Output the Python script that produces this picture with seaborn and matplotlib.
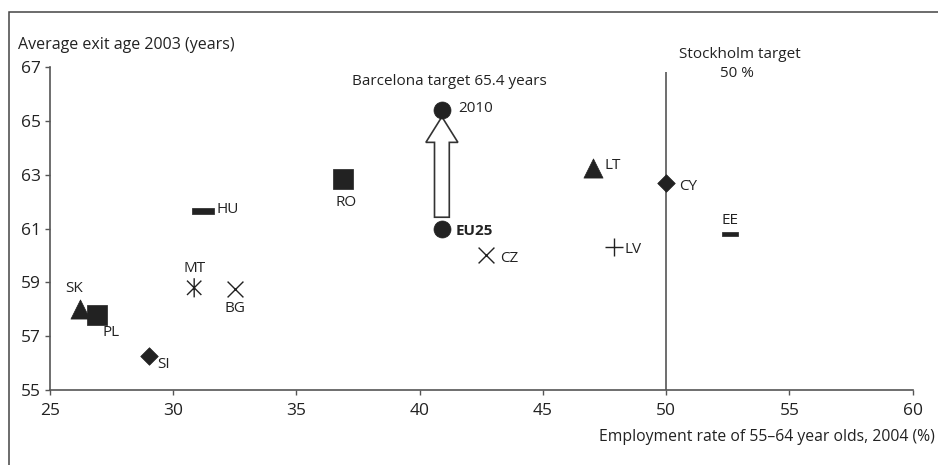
import matplotlib
matplotlib.use("Agg")
import numpy as np
import pandas as pd
import seaborn as sns
import matplotlib.pyplot as plt
from matplotlib.path import Path
from matplotlib.patches import Rectangle

# data
countries = ['SK', 'PL', 'SI', 'MT', 'BG', 'HU', 'RO', 'EU25', 'CZ', 'LT', 'CY', 'LV', 'EE']
employment_rate = [26.2, 26.9, 29.0, 30.85, 32.5, 31.2, 36.9, 40.9, 42.7, 47.05, 50.0, 47.9, 52.6]
exit_age = [58.0, 57.8, 56.25, 58.8, 58.75, 61.65, 62.85, 61.0, 60.0, 63.25, 62.7, 60.3, 60.8]

target_label = '2010'
target_exit_age = 65.4
stockholm_rate = 50

x_ticks = [25, 30, 35, 40, 45, 50, 55, 60]
y_ticks = [55, 57, 59, 61, 63, 65, 67]

df = pd.DataFrame({'country': countries, 'rate': employment_rate, 'age': exit_age})

INK = '#222222'
AXIS = '#555555'

# marker shapes
dash_wide = [(-1, -0.3), (1, -0.3), (1, 0.3), (-1, 0.3), (-1, -0.3)]
asterisk = Path([(0, -1), (0, 1), (-0.75, -0.75), (0.75, 0.75), (-0.75, 0.75), (0.75, -0.75)],
                [Path.MOVETO, Path.LINETO, Path.MOVETO, Path.LINETO, Path.MOVETO, Path.LINETO])

# marker, size, kind ('fill', 'line' for matplotlib line-art, 'path' for custom strokes)
marker_style = {
    'SK': ('^', 190, 'fill'), 'PL': ('s', 190, 'fill'), 'SI': ('D', 80, 'fill'),
    'MT': (asterisk, 190, 'path'), 'BG': ('x', 130, 'line'), 'HU': (dash_wide, 260, 'fill'),
    'RO': ('s', 190, 'fill'), 'EU25': ('o', 150, 'fill'), 'CZ': ('x', 130, 'line'),
    'LT': ('^', 190, 'fill'), 'CY': ('D', 80, 'fill'), 'LV': ('+', 150, 'line'),
    'EE': (dash_wide, 120, 'fill'),
}
# label offset (points), horizontal alignment, bold
label_style = {
    'SK': (-4, 15, 'center', False), 'PL': (10, -13, 'center', False),
    'SI': (11, -6, 'center', False), 'MT': (0, 14, 'center', False),
    'BG': (0, -14, 'center', False), 'HU': (10, 1, 'left', False),
    'RO': (2, -17, 'center', False), 'EU25': (10, -2, 'left', True),
    'CZ': (10, -2, 'left', False), 'LT': (8, 2, 'left', False),
    'CY': (9, -3, 'left', False), 'LV': (7, -1.5, 'left', False),
    'EE': (0, 10, 'center', False),
}

sns.set_style('ticks')
plt.rcParams['font.family'] = ['Open Sans', 'DejaVu Sans']

fig = plt.figure(figsize=(9.38, 4.65), dpi=100)
ax = fig.add_axes([0.0533, 0.161, 0.9197, 0.695])

for _, row in df.iterrows():
    marker, size, kind = marker_style[row['country']]
    if kind == 'fill':
        sns.scatterplot(x=[row['rate']], y=[row['age']], marker=marker, s=size,
                        color=INK, edgecolor=INK, linewidth=0.5, ax=ax, zorder=3)
    elif kind == 'line':
        sns.scatterplot(x=[row['rate']], y=[row['age']], marker=marker, s=size,
                        color=INK, linewidth=1.0, ax=ax, zorder=3)
    else:
        sns.scatterplot(x=[row['rate']], y=[row['age']], marker=marker, s=size,
                        facecolor='none', edgecolor=INK, linewidth=1.0, ax=ax, zorder=3)
    dx, dy, ha, bold = label_style[row['country']]
    ax.annotate(row['country'], (row['rate'], row['age']), xytext=(dx, dy),
                textcoords='offset points', ha=ha, va='center', fontsize=11,
                color=INK, fontweight='bold' if bold else 'normal')

# Barcelona target point for 2010
eu_rate = df.loc[df['country'] == 'EU25', 'rate'].iloc[0]
eu_age = df.loc[df['country'] == 'EU25', 'age'].iloc[0]
sns.scatterplot(x=[eu_rate], y=[target_exit_age], marker='o', s=150,
                color=INK, edgecolor=INK, linewidth=0.5, ax=ax, zorder=4)
ax.annotate(target_label, (eu_rate, target_exit_age), xytext=(12, 1),
            textcoords='offset points', ha='left', va='center', fontsize=11, color=INK)

# block arrow from EU25 up to the target
arrow_start = eu_age + 0.42
arrow_end = target_exit_age - 0.25
ax.arrow(eu_rate, arrow_start, 0, arrow_end - arrow_start, width=0.6, head_width=1.3,
         head_length=0.95, length_includes_head=True, fc='white', ec='#333333',
         lw=1.2, zorder=3)
ax.text(eu_rate + 0.3, 66.45, 'Barcelona target 65.4 years', ha='center', va='center',
        fontsize=11, color=INK)

# Stockholm target line
ax.vlines(stockholm_rate, 55, 66.8, color=AXIS, lw=1.2, zorder=2)
ax.text(stockholm_rate + 0.5, 67.45, 'Stockholm target', ha='left', va='center',
        fontsize=11, color=INK, clip_on=False)
ax.text(stockholm_rate + 2.2, 66.75, '50 %', ha='left', va='center',
        fontsize=11, color=INK, clip_on=False)

ax.set_xlim(25, 60)
ax.set_ylim(55, 67)
ax.set_xticks(x_ticks)
ax.set_yticks(y_ticks)
ax.set_xlabel('')
ax.set_ylabel('')
sns.despine(ax=ax)
for side in ['left', 'bottom']:
    ax.spines[side].set_color(AXIS)
    ax.spines[side].set_linewidth(1.2)
ax.tick_params(axis='both', direction='out', length=3.5, width=1, color=AXIS,
               labelsize=12.5, labelcolor=INK, pad=3)
ax.tick_params(axis='x', pad=6)

fig.text(0.019, 0.903, 'Average exit age 2003 (years)', ha='left', va='center',
         fontsize=11.5, color=INK)
fig.text(0.997, 0.060, 'Employment rate of 55\u201364 year olds, 2004 (%)', ha='right',
         va='center', fontsize=11.3, color=INK)

# outer frame, cut off at the right and bottom
fig.patches.append(Rectangle((9 / 938, -0.2), 1.2, 1.2 - 12 / 465, transform=fig.transFigure,
                             fill=False, ec='#444444', lw=1.1, figure=fig))

fig.savefig('out.png', dpi=100)
